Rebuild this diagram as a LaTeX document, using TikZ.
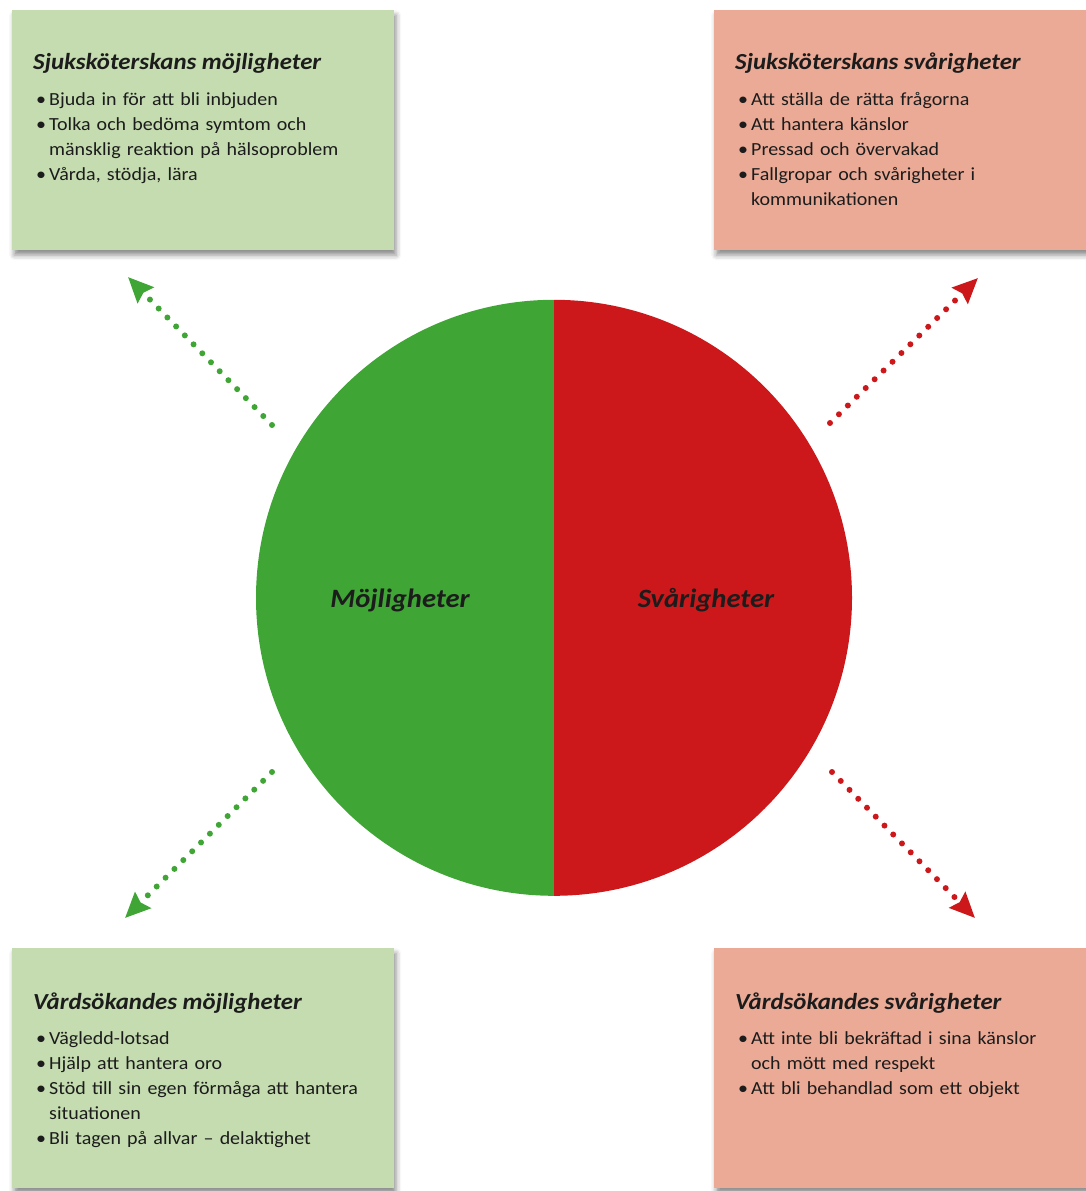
\documentclass[tikz,border=0pt]{standalone}
\usepackage{fontspec}
\setmainfont{Carlito}[FakeStretch = 1.08]
\usetikzlibrary{arrows.meta, positioning, shadows.blur}
\definecolor{gcirc}{HTML}{3FA535}
\definecolor{rcirc}{HTML}{CC181A}
\definecolor{gbox}{HTML}{C4DCB0}
\definecolor{rbox}{HTML}{EAAA96}
\definecolor{ink}{HTML}{1C1C1C}
\tikzset{x = 1pt, y = -1pt,
         box/.style = {anchor = north west, inner sep = 0pt,
                       minimum width = 382pt, minimum height = 240pt,
                       blur shadow = {shadow xshift = 2pt, shadow yshift = -5pt,
                                      shadow blur radius = 5pt, shadow opacity = 45}},
         gbox/.style = {box, fill = gbox},
         rbox/.style = {box, fill = rbox},
         head/.style = {anchor = base west, inner sep = 0pt, text = ink,
                        font = \fontsize{23}{27}\selectfont\bfseries\itshape},
         list/.style = {anchor = base west, inner sep = 0pt, text = ink,
                        text width = 360pt, align = left,
                        font = \fontsize{18.5}{25}\selectfont},
         lbl/.style = {anchor = base, text = ink,
                       font = \fontsize{26.5}{30}\selectfont\bfseries\itshape},
         dots/.style = {line width = 6pt, line cap = round,
                        dash pattern = on 0pt off 12.5pt,
                        -{Stealth[length = 25pt, width = 22pt, inset = 3pt]}},
         garrow/.style = {dots, draw = gcirc},
         rarrow/.style = {dots, draw = rcirc}}
\newcommand\bul[1]{\hangindent=16pt\hangafter=1\noindent\makebox[16pt][l]{\hspace{3pt}\textbullet}#1\par}

\begin{document}
\begin{tikzpicture}
        \useasboundingbox (0,0) rectangle (1086,1191);

        \node[gbox] (tl) at (12,10)   {};
        \node[rbox] (tr) at (714,10)  {};
        \node[gbox] (bl) at (12,948)  {};
        \node[rbox] (br) at (714,948) {};

        \node[head] (tl-h) at ([xshift = 21pt, yshift = -59pt] tl.north west) {Sjuksköterskans möjligheter};
        \node[list] (tl-l) at ([xshift = 21pt, yshift = -95pt] tl.north west)
          {\bul{Bjuda in för att bli inbjuden}
           \bul{Tolka och bedöma symtom och\newline mänsklig reaktion på hälsoproblem}
           \bul{Vårda, stödja, lära}};

        \node[head] (tr-h) at ([xshift = 21pt, yshift = -59pt] tr.north west) {Sjuksköterskans svårigheter};
        \node[list] (tr-l) at ([xshift = 21pt, yshift = -95pt] tr.north west)
          {\bul{Att ställa de rätta frågorna}
           \bul{Att hantera känslor}
           \bul{Pressad och övervakad}
           \bul{Fallgropar och svårigheter i\newline kommunikationen}};

        \node[head] (bl-h) at ([xshift = 21pt, yshift = -61pt] bl.north west) {Vårdsökandes möjligheter};
        \node[list] (bl-l) at ([xshift = 21pt, yshift = -96pt] bl.north west)
          {\bul{Vägledd-lotsad}
           \bul{Hjälp att hantera oro}
           \bul{Stöd till sin egen förmåga att hantera\newline situationen}
           \bul{Bli tagen på allvar -- delaktighet}};

        \node[head] (br-h) at ([xshift = 21pt, yshift = -61pt] br.north west) {Vårdsökandes svårigheter};
        \node[list] (br-l) at ([xshift = 21pt, yshift = -96pt] br.north west)
          {\bul{Att inte bli bekräftad i sina känslor\newline och mött med respekt}
           \bul{Att bli behandlad som ett objekt}};

        \node[circle, minimum size = 596pt, inner sep = 0pt] (c) at (554,598) {};
        \fill[gcirc] (c.north) arc[start angle = 90, end angle = 270, radius = 298pt] -- cycle;
        \fill[rcirc] (c.north) arc[start angle = 90, end angle = -90, radius = 298pt] -- cycle;

        \node[lbl] (m) at (400,607) {Möjligheter};
        \node[lbl] (s) at (706,607) {Svårigheter};

        \coordinate (tl-a) at (272,425);
        \coordinate (tl-b) at (128,277);
        \coordinate (tr-a) at (830,423);
        \coordinate (tr-b) at (978,278);
        \coordinate (bl-a) at (272,772);
        \coordinate (bl-b) at (125,918);
        \coordinate (br-a) at (832,772);
        \coordinate (br-b) at (975,918);

        \draw[garrow] (tl-a) -- (tl-b);
        \draw[rarrow] (tr-a) -- (tr-b);
        \draw[garrow] (bl-a) -- (bl-b);
        \draw[rarrow] (br-a) -- (br-b);
\end{tikzpicture}
\end{document}
